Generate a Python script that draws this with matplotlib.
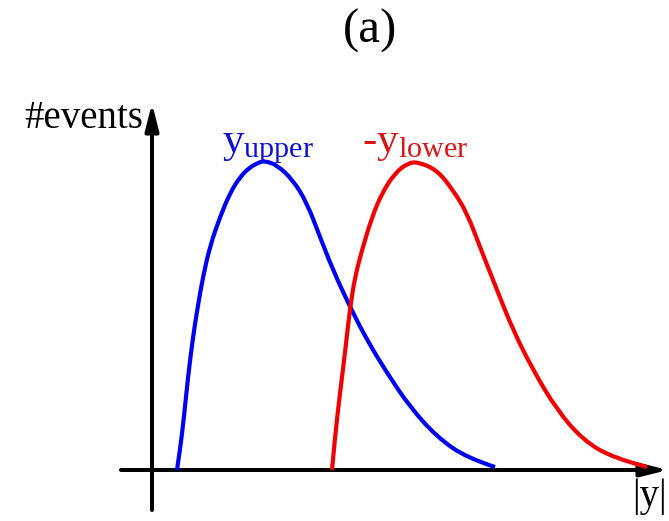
import matplotlib
matplotlib.use("Agg")
import matplotlib.pyplot as plt
from matplotlib.path import Path
from matplotlib.patches import PathPatch

plt.rcParams['font.family'] = ['Liberation Serif', 'DejaVu Serif']
plt.rcParams['mathtext.fontset'] = 'custom'
plt.rcParams['mathtext.rm'] = 'Liberation Serif'
plt.rcParams['mathtext.it'] = 'Liberation Serif:italic'

# schematic distributions (|y| , #events)
upper_x = [0.25, 0.28, 0.32, 0.36, 0.41, 0.46, 0.51, 0.58, 0.68, 0.78, 0.88, 0.98,
           1.08, 1.13, 1.25, 1.41, 1.55, 1.68, 1.81, 1.98, 2.15, 2.35, 2.58, 2.85,
           3.15, 3.43]
upper_y = [0.00, 0.20, 0.53, 0.93, 1.33, 1.65, 1.93, 2.24, 2.53, 2.77, 2.93, 3.03,
           3.08, 3.09, 3.05, 2.90, 2.67, 2.33, 2.00, 1.63, 1.30, 0.97, 0.63, 0.33,
           0.12, 0.03]

lower_x = [1.80, 1.83, 1.88, 1.93, 1.98, 2.03, 2.10, 2.20, 2.30, 2.43, 2.56, 2.66,
           2.85, 3.01, 3.15, 3.28, 3.45, 3.61, 3.81, 4.05, 4.31, 4.61, 4.95]
lower_y = [0.00, 0.33, 0.77, 1.17, 1.62, 1.93, 2.20, 2.53, 2.77, 2.97, 3.07, 3.08,
           3.00, 2.80, 2.57, 2.23, 1.80, 1.40, 1.00, 0.60, 0.30, 0.12, 0.03]


def smooth_curve(ax, xs, ys, color):
    # quadratic bezier through midpoints, so the drawn line has no corners
    pts = list(zip(xs, ys))
    verts = [pts[0]]
    codes = [Path.MOVETO]
    for i in range(1, len(pts) - 1):
        nxt = pts[i + 1] if i == len(pts) - 2 else (
            (pts[i][0] + pts[i + 1][0]) / 2, (pts[i][1] + pts[i + 1][1]) / 2)
        verts += [pts[i], nxt]
        codes += [Path.CURVE3, Path.CURVE3]
    ax.add_patch(PathPatch(Path(verts, codes), fill=False, edgecolor=color,
                           lw=3, capstyle='butt', zorder=3))


fig = plt.figure(figsize=(6.69, 5.21), dpi=100)
ax = fig.add_axes([0, 0, 1, 1])
ax.set_xlim(-1.52, 5.17)
ax.set_ylim(-0.51, 4.70)
ax.axis('off')

# axes with arrows
arrow = dict(arrowstyle='-|>,head_length=1.0,head_width=0.25', lw=2.9,
             color='black', mutation_scale=16, shrinkA=0, shrinkB=0)
ax.annotate('', xy=(0, 3.67), xytext=(0, -0.40), arrowprops=arrow)
ax.annotate('', xy=(5.16, 0), xytext=(-0.31, 0), arrowprops=arrow)

smooth_curve(ax, upper_x, upper_y, '#0000f0')
smooth_curve(ax, lower_x, lower_y, '#f00000')

ax.text(0.70, 3.18, r'$\mathrm{y}_{\mathrm{upper}}$', color='#1010d0',
        fontsize=31, ha='left', va='baseline')
ax.text(2.10, 3.18, r'-$\mathrm{y}_{\mathrm{lower}}$', color='#d81818',
        fontsize=31, ha='left', va='baseline')

ax.text(-0.09, 3.42, '#events', fontsize=28, ha='right', va='baseline')
ax.text(4.80, -0.08, '|y|', fontsize=28, ha='left', va='top')

fig.text(0.553, 0.94, '(a)', fontsize=35, ha='center', va='center')

fig.savefig('out.png', dpi=100)
